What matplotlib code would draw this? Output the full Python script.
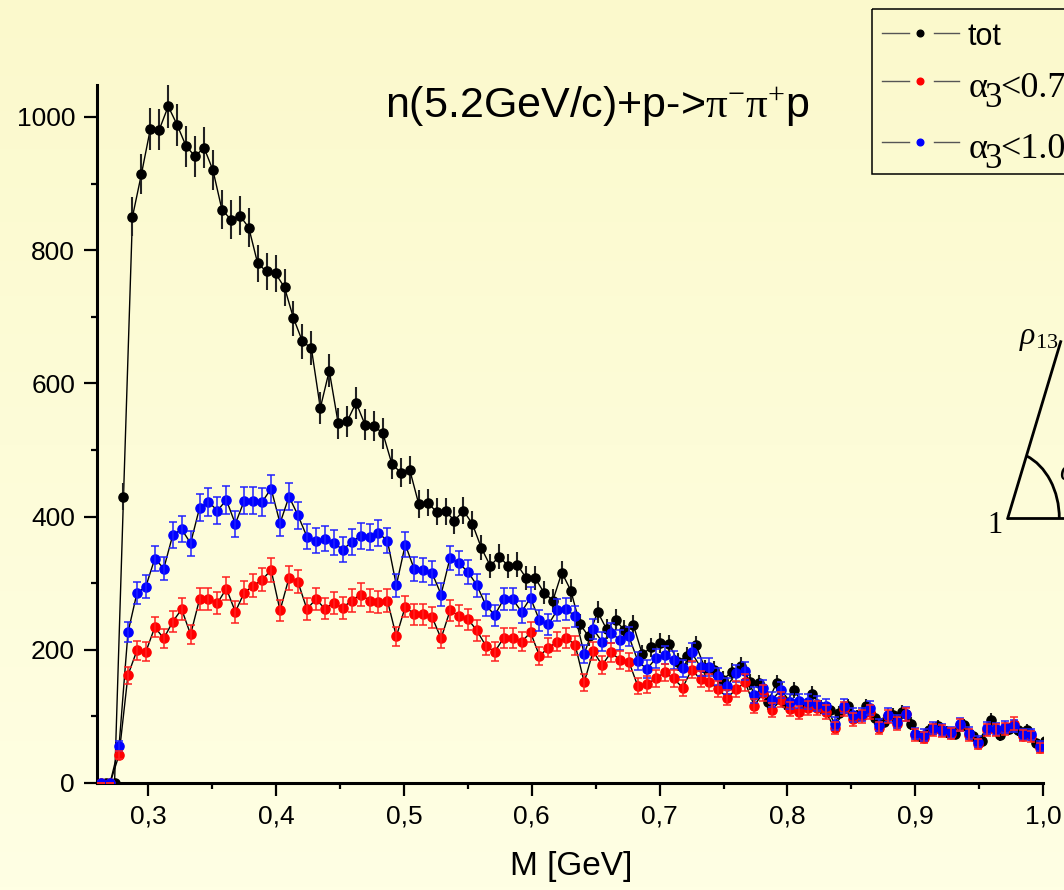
import matplotlib
matplotlib.use('Agg')
import matplotlib.pyplot as plt
import numpy as np
from matplotlib.patches import Arc, Rectangle
from matplotlib.lines import Line2D
from matplotlib.ticker import MultipleLocator, FuncFormatter

plt.rcParams['font.family'] = ['Liberation Sans', 'DejaVu Sans']
plt.rcParams['mathtext.fontset'] = 'custom'
plt.rcParams['mathtext.rm'] = 'Liberation Serif'
plt.rcParams['mathtext.it'] = 'Liberation Serif:italic'
plt.rcParams['mathtext.bf'] = 'Liberation Serif:bold'

# invariant mass bins (GeV); the total spectrum is shifted by half a bin
bin_width = 0.007
m_cut = 0.263 + bin_width * np.arange(106)
m_tot = m_cut + bin_width / 2

# event counts per bin
tot = [0, 0, 430, 850, 914, 982, 981, 1016, 988, 956, 941, 954, 920, 861, 846, 852,
       834, 780, 768, 765, 744, 698, 663, 653, 563, 619, 540, 543, 571, 538, 536, 525,
       479, 466, 470, 419, 421, 407, 408, 394, 409, 389, 353, 326, 340, 326, 328, 308,
       308, 286, 274, 316, 289, 239, 220, 257, 231, 245, 229, 237, 193, 204, 210, 208,
       182, 191, 207, 172, 170, 155, 167, 176, 152, 150, 121, 150, 120, 140, 115, 134,
       114, 109, 105, 115, 100, 115, 97, 92, 102, 107, 89, 70, 79, 86, 77, 74,
       87, 71, 63, 95, 72, 81, 79, 79, 60, 63]
cut_07 = [0, 0, 42, 162, 199, 197, 234, 217, 242, 261, 223, 276, 276, 270, 292, 257,
          286, 296, 305, 320, 259, 308, 302, 261, 276, 262, 270, 263, 274, 283, 274, 272,
          274, 220, 265, 253, 253, 249, 217, 259, 251, 246, 229, 206, 197, 218, 218, 212,
          226, 191, 203, 212, 218, 207, 151, 198, 177, 196, 185, 182, 145, 148, 157, 166,
          157, 143, 170, 156, 151, 141, 128, 141, 151, 116, 135, 110, 125, 111, 106, 113,
          112, 107, 82, 111, 96, 100, 107, 83, 100, 89, 103, 72, 68, 80, 78, 74,
          87, 72, 59, 79, 79, 81, 89, 71, 70, 53]
cut_10 = [0, 0, 55, 226, 285, 295, 337, 322, 372, 381, 360, 413, 422, 409, 425, 389,
          424, 424, 422, 442, 390, 430, 402, 370, 364, 367, 361, 350, 362, 371, 369, 375,
          364, 297, 358, 321, 320, 315, 283, 338, 330, 317, 297, 267, 252, 276, 276, 257,
          278, 244, 238, 260, 261, 250, 194, 231, 212, 225, 215, 220, 183, 171, 187, 192,
          184, 172, 196, 174, 174, 160, 146, 165, 168, 132, 142, 125, 140, 122, 123, 122,
          119, 115, 89, 116, 102, 103, 112, 87, 102, 92, 104, 74, 72, 82, 80, 76,
          88, 75, 62, 82, 81, 84, 86, 73, 73, 55]

tot = np.array(tot, float)
cut_07 = np.array(cut_07, float)
cut_10 = np.array(cut_10, float)

W, H = 1064, 890
fig = plt.figure(figsize=(W / 100, H / 100), dpi=100)

# pale yellow backdrop, slightly stronger towards the top
bg = fig.add_axes([0, 0, 1, 1], zorder=-10)
top_c = np.array([251, 249, 204]) / 255
bot_c = np.array([255, 255, 228]) / 255
t = np.linspace(0, 1, 256)[:, None]
grad = top_c * (1 - t) + bot_c * t
bg.imshow(grad[:, None, :], aspect='auto', extent=[0, 1, 0, 1])
bg.axis('off')

ax = fig.add_axes([97.3 / W, 1 - 783 / H, (1043 - 97.3) / W, (783 - 85) / H])
ax.patch.set_alpha(0)

for xs, y in ((m_tot, tot), (m_cut, cut_07), (m_cut, cut_10)):
    ax.plot(xs, y, color='k', lw=1.0, zorder=2)

ax.errorbar(m_tot, tot, yerr=np.sqrt(tot), fmt='none', ecolor='#222222',
            elinewidth=1.5, capsize=0, zorder=2.5)
ax.plot(m_tot, tot, 'o', ms=6.6, color='k', zorder=3)

ax.plot(m_cut, cut_07, 'o', ms=6.6, color='#ff0000', zorder=3.5)
ax.plot(m_cut, cut_10, 'o', ms=6.6, color='#0000ff', zorder=4)
ax.errorbar(m_cut, cut_10, yerr=np.sqrt(cut_10), fmt='none', ecolor='#2020ff',
            elinewidth=1.1, capsize=3, capthick=1.1, zorder=4.5)
ax.errorbar(m_cut, cut_07, yerr=np.sqrt(cut_07), fmt='none', ecolor='#ff2020',
            elinewidth=1.1, capsize=3, capthick=1.1, zorder=4.6)

ax.set_xlim(0.26, 1.0)
ax.set_ylim(0, 1048)
ax.xaxis.set_major_locator(MultipleLocator(0.1))
ax.xaxis.set_minor_locator(MultipleLocator(0.05))
ax.yaxis.set_major_locator(MultipleLocator(200))
ax.yaxis.set_minor_locator(MultipleLocator(100))
ax.xaxis.set_major_formatter(FuncFormatter(lambda v, p: f'{v:.1f}'.replace('.', ',')))
ax.tick_params(which='major', direction='out', length=9.5, width=1.6, labelsize=19)
ax.tick_params(which='minor', direction='out', length=4.5, width=1.6)
ax.tick_params(axis='x', pad=6)
ax.tick_params(axis='y', pad=6.5)
for s in ('top', 'right'):
    ax.spines[s].set_visible(False)
for s in ('left', 'bottom'):
    ax.spines[s].set_linewidth(2.2)

# overlay in pixel units for the text, legend and the angle sketch
deco = fig.add_axes([0, 0, 1, 1], zorder=5)
deco.set_xlim(0, W)
deco.set_ylim(H, 0)
deco.axis('off')

deco.text(571, 866, 'M [GeV]', fontsize=24, ha='center', va='center')
deco.text(385, 117, r'n(5.2GeV/c)+p->$\mathrm{\pi}^{-}\mathrm{\pi}^{+}$p',
          fontsize=31, ha='left', va='baseline')

# legend
deco.add_patch(Rectangle((871.7, 9.3), 260, 165, fill=False, ec='k', lw=1.1,
                         clip_on=False))
rows = [(33, 'k'), (81, '#ff0000'), (142, '#0000ff')]
for y, c in rows:
    deco.add_line(Line2D([882, 909], [y, y], color='#555555', lw=1.0))
    deco.add_line(Line2D([934, 959], [y, y], color='#555555', lw=1.0))
    deco.plot([920.3], [y], 'o', ms=4.8, color=c)
deco.text(968, 45, 'tot', fontsize=22, va='baseline')
for base, rest in ((97, '<0.7'), (158, '<1.0')):
    deco.text(969, base, 'α', fontsize=26, family='Liberation Serif', va='baseline')
    deco.text(984, base + 10, '3', fontsize=25, family='Liberation Serif', va='baseline')
    deco.text(1000, base, rest, fontsize=26, family='Liberation Serif', va='baseline')

# angle sketch at the right edge
vx, vy = 1007.7, 518.3
deco.add_line(Line2D([vx, 1070], [vy, vy], color='k', lw=2.0, clip_on=False))
deco.add_line(Line2D([vx, 1060.7], [vy, 341.7], color='k', lw=2.0))
deco.add_patch(Arc((vx, vy), 2 * 51.6, 2 * 67, theta1=-73.3, theta2=0,
                   color='k', lw=2.0))
deco.text(995, 533, '1', fontsize=22, family='Liberation Serif', ha='center',
          va='baseline')
deco.text(1019, 344, r'$\mathit{\rho_{13}}$', fontsize=23, va='baseline')
deco.text(1059, 480, r'$\mathit{\alpha}$', fontsize=21, va='baseline')

fig.savefig('out.png', dpi=100)
